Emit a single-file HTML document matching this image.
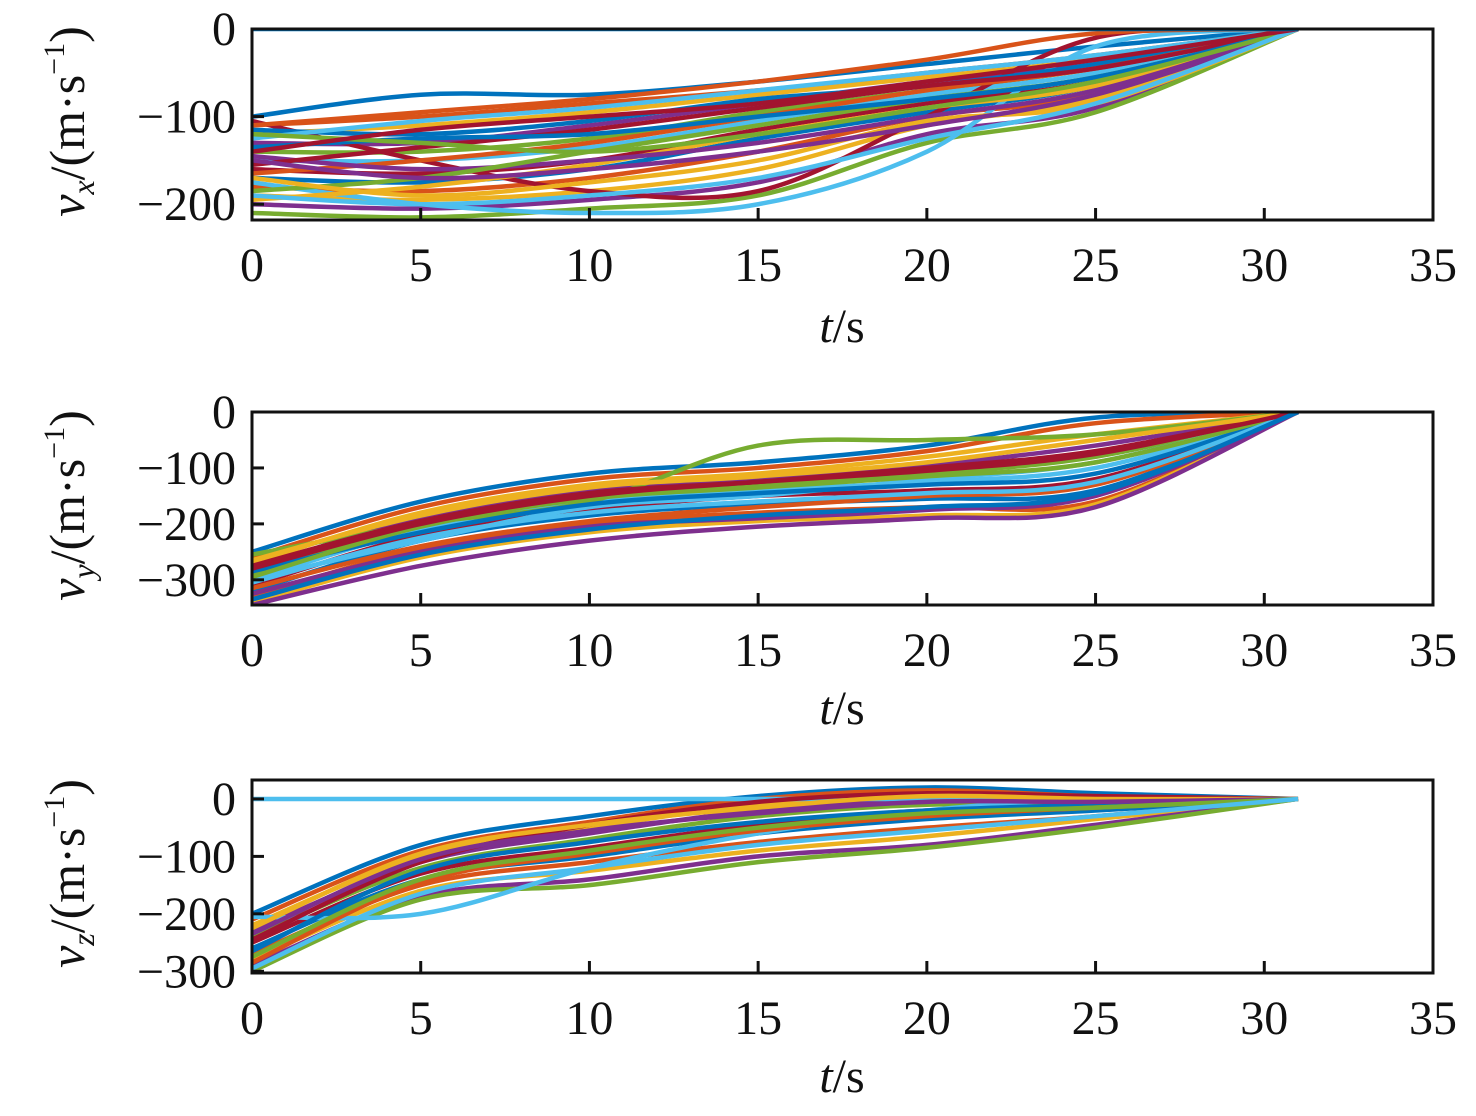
<!DOCTYPE html>
<html><head><meta charset="utf-8"><style>
body{margin:0;background:#fff}
svg text{font-family:"Liberation Serif","Times New Roman",serif;fill:#111}
</style></head><body>
<svg id="c" width="1476" height="1111" viewBox="0 0 1476 1111" xmlns="http://www.w3.org/2000/svg"></svg>
<script>
const times=[0,5,10,15,20,25,31];
const colors=["#0072BD","#D95319","#EDB120","#7E2F8E","#77AC30","#4DBEEE","#A2142F"];
const xTicks=[0,5,10,15,20,25,30,35];
const vxTicks=[0,-100,-200];
const vyTicks=[0,-100,-200,-300];
const vzTicks=[0,-100,-200,-300];
const vxSeries=[
[-100,-75,-75,-60,-40,-20,0],[-110,-100,-85,-70,-50,-30,0],[-120,-110,-95,-75,-55,-35,0],
[-130,-130,-110,-85,-60,-40,0],[-140,-140,-125,-95,-70,-45,0],[-150,-150,-135,-105,-75,-50,0],
[-160,-165,-150,-115,-85,-60,0],[-170,-175,-160,-125,-95,-65,0],[-180,-185,-170,-140,-100,-75,0],
[-190,-195,-185,-160,-110,-80,0],[-200,-205,-195,-175,-120,-90,0],[-210,-215,-205,-190,-130,-95,0],
[-175,-200,-210,-200,-140,-20,0],[-105,-150,-185,-185,-100,-10,0],[-115,-120,-105,-80,-65,-40,0],
[-165,-150,-130,-100,-70,-45,0],[-195,-180,-155,-120,-90,-65,0],[-145,-160,-150,-130,-100,-70,0],
[-185,-170,-140,-110,-80,-55,0],[-125,-105,-90,-70,-50,-30,0],[-155,-135,-115,-90,-65,-45,0],
[-135,-125,-120,-100,-80,-55,0],[-110,-95,-80,-60,-35,-5,0],[-170,-190,-175,-150,-105,-85,0],
[-150,-170,-160,-140,-110,-75,0],[-120,-130,-140,-120,-90,-60,0],[-190,-200,-190,-170,-125,-85,0],
[-140,-115,-100,-85,-60,-35,0],[0,0,0,0,0,0,0]];
const vySeries=[
[-250,-160,-110,-90,-60,-10,0],[-260,-170,-120,-100,-70,-20,0],[-270,-180,-130,-110,-80,-40,0],
[-280,-190,-140,-120,-95,-60,0],[-290,-200,-150,-130,-110,-80,0],[-300,-210,-160,-140,-125,-100,0],
[-310,-220,-175,-150,-140,-120,0],[-320,-230,-185,-165,-155,-140,0],[-330,-245,-200,-180,-170,-160,0],
[-340,-260,-215,-195,-185,-165,0],[-345,-275,-230,-205,-190,-170,0],[-255,-200,-160,-60,-50,-40,0],
[-300,-230,-170,-150,-120,-90,0],[-275,-195,-145,-125,-100,-70,0],[-285,-215,-165,-145,-130,-110,0],
[-315,-240,-195,-170,-150,-130,0],[-265,-185,-135,-115,-90,-50,0],[-325,-250,-205,-190,-175,-150,0],
[-295,-205,-155,-135,-115,-90,0],[-305,-225,-180,-160,-145,-125,0],[-280,-200,-150,-125,-105,-75,0],
[-335,-255,-210,-185,-170,-145,0]];
const vzSeries=[
[-200,-80,-30,5,20,10,0],[-210,-90,-40,0,15,5,0],[-220,-100,-50,-10,10,0,0],[-230,-110,-60,-20,0,-5,0],
[-240,-120,-70,-30,-10,-10,0],[0,0,0,0,0,0,0],[-250,-130,-85,-45,-20,-15,0],[-260,-140,-100,-60,-35,-20,0],
[-270,-150,-110,-75,-50,-30,0],[-280,-160,-125,-90,-65,-35,0],[-290,-170,-140,-100,-80,-45,0],
[-300,-175,-150,-110,-85,-50,0],[-205,-200,-120,-60,-20,0,0],[-245,-110,-45,-5,10,5,0],
[-265,-125,-75,-40,-20,-10,0],[-285,-145,-95,-55,-30,-15,0],[-225,-95,-45,-15,5,0,0],
[-235,-105,-55,-25,-5,-5,0],[-275,-140,-90,-50,-25,-15,0],[-295,-165,-120,-80,-55,-30,0]];
const panels=[
 {name:"vx",top:29,bottom:220,ymax:0,ymin:-218,ticks:vxTicks,series:vxSeries,sub:"x",xl:325},
 {name:"vy",top:412,bottom:605,ymax:0,ymin:-345,ticks:vyTicks,series:vySeries,sub:"y",xl:707},
 {name:"vz",top:780,bottom:973,ymax:33,ymin:-303,ticks:vzTicks,series:vzSeries,sub:"z",xl:1075}];
const L=252,R=1433,NS="http://www.w3.org/2000/svg";
const svg=document.getElementById("c");
function mk(t,a,p){const e=document.createElementNS(NS,t);for(const k in a)e.setAttribute(k,a[k]);(p||svg).appendChild(e);return e;}
const xs=t=>L+(t-0)/35*(R-L);
function spline(pts){let d="M"+pts[0][0]+","+pts[0][1];
 for(let i=0;i<pts.length-1;i++){const p0=pts[Math.max(0,i-1)],p1=pts[i],p2=pts[i+1],p3=pts[Math.min(pts.length-1,i+2)];
 const c1=[p1[0]+(p2[0]-p0[0])/6,p1[1]+(p2[1]-p0[1])/6],c2=[p2[0]-(p3[0]-p1[0])/6,p2[1]-(p3[1]-p1[1])/6];
 d+=" C"+c1+" "+c2+" "+p2;}return d;}
panels.forEach((P,pi)=>{
 const ys=v=>P.top+(P.ymax-v)/(P.ymax-P.ymin)*(P.bottom-P.top);
 const g=mk("g",{});
 
 
 const cp=mk("clipPath",{id:"cp"+pi},g);mk("rect",{x:L,y:P.top,width:R-L,height:P.bottom-P.top},cp);
 const lg=mk("g",{"clip-path":"url(#cp"+pi+")"},g);
 P.series.forEach((s,i)=>{
  const path=mk("path",{d:spline(s.map((v,j)=>[xs(times[j]),ys(v)])),fill:"none",stroke:colors[i%7],"stroke-width":4.5},lg);
  
  
 });
 const box=mk("rect",{x:L,y:P.top,width:R-L,height:P.bottom-P.top,fill:"none",stroke:"#111","stroke-width":3},g);
 
 
 xTicks.forEach(t=>{
  mk("line",{x1:xs(t),x2:xs(t),y1:P.bottom,y2:P.bottom-12,stroke:"#111","stroke-width":3},g);
  const tx=mk("text",{x:xs(t),y:P.bottom+61,"font-size":48,"text-anchor":"middle"},g);tx.textContent=t;
  
  
 });
 P.ticks.forEach(v=>{
  mk("line",{x1:L,x2:L+12,y1:ys(v),y2:ys(v),stroke:"#111","stroke-width":3},g);
  const tx=mk("text",{x:236,y:ys(v)+16,"font-size":48,"text-anchor":"end"},g);tx.textContent=(v<0?"\u2212"+(-v):v);
  
  
 });
 const xl=mk("text",{x:842,y:P.xl+17,"font-size":48,"text-anchor":"middle"},g);
 xl.innerHTML='<tspan font-style="italic">t</tspan>/s';
 
 
 const cy=(P.top+P.bottom)/2;
 const yl=mk("text",{x:0,y:0,"font-size":50,"text-anchor":"middle",transform:"translate(84,"+(cy-3)+") rotate(-90)"},g);
 yl.innerHTML='<tspan font-style="italic">v</tspan><tspan font-style="italic" font-size="32" dy="10">'+P.sub+'</tspan><tspan dy="-10">/(m·s</tspan><tspan font-size="30" dy="-20">−1</tspan><tspan dy="20">)</tspan>';
 
 
});
</script>
</body></html>
